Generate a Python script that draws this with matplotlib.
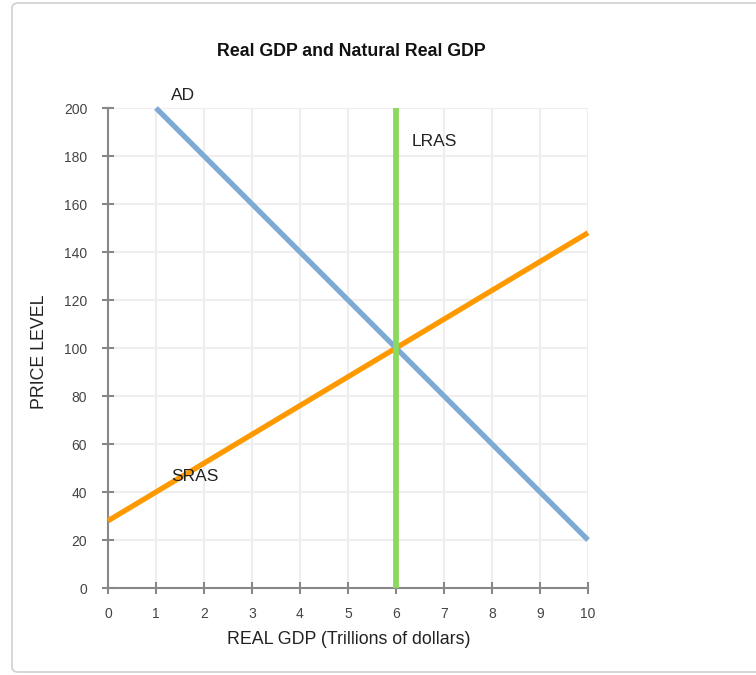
import matplotlib
matplotlib.use("Agg")
import matplotlib.pyplot as plt
from matplotlib.patches import FancyBboxPatch
import numpy as np

plt.rcParams['font.family'] = ['Liberation Sans', 'DejaVu Sans']

# Data
ad_x = [1, 10]
ad_y = [200, 20]
sras_x = [0, 10]
sras_y = [28, 148]
lras_x = [6, 6]
lras_y = [0, 200]
x_ticks = list(range(0, 11))
y_ticks = list(range(0, 201, 20))
labels = {"AD": (1.57, 205), "LRAS": (6.79, 186), "SRAS": (1.82, 46.5)}

W, H = 756, 675
fig = plt.figure(figsize=(W / 100, H / 100), dpi=100)

# card border
card = FancyBboxPatch((12 / W, 3 / H), (W + 20) / W, (H - 6) / H,
                      boxstyle="round,pad=0,rounding_size=0.008",
                      transform=fig.transFigure, facecolor="none",
                      edgecolor="#d0d0d0", linewidth=1.2, zorder=-1)
fig.patches.append(card)

ax = fig.add_axes([108 / W, 87 / H, 480 / W, 480 / H])
ax.set_zorder(2)
ax.set_facecolor("none")
ax.set_xlim(0, 10)
ax.set_ylim(0, 200)
ax.set_xticks(x_ticks)
ax.set_yticks(y_ticks)
ax.set_axisbelow(True)
ax.grid(True, color="#eeeeee", linewidth=1.5, zorder=0)
for s in ["top", "right"]:
    ax.spines[s].set_visible(False)
for s in ["left", "bottom"]:
    ax.spines[s].set_color("#888888")
    ax.spines[s].set_linewidth(1.5)
ax.tick_params(axis="both", direction="inout", length=8, width=1.5,
               color="#888888", labelcolor="#444444", labelsize=10)
ax.tick_params(axis="y", pad=11)
ax.tick_params(axis="x", pad=10)

ax.plot(sras_x, sras_y, color="#ff9900", linewidth=3.8, solid_capstyle="butt", zorder=3, clip_on=False)
ax.plot(ad_x, ad_y, color="#7eaad4", linewidth=3.8, solid_capstyle="butt", zorder=3, clip_on=False)
ax.plot(lras_x, lras_y, color="#8cd95f", linewidth=4.2, solid_capstyle="butt", zorder=4, clip_on=False)

for name, (lx, ly) in labels.items():
    ax.text(lx, ly, name, ha="center", va="center", fontsize=12.5, color="#222222", zorder=5)

fig.text(348.5 / W, 1 - 639 / H, "REAL GDP (Trillions of dollars)", ha="center", va="center",
         fontsize=12.8, color="#222222")
fig.text(40 / W, 1 - 351.5 / H, "PRICE LEVEL", ha="center", va="center", rotation=90,
         fontsize=12.8, color="#222222")

fig.text(351.5 / W, 1 - 52 / H, "Real GDP and Natural Real GDP", ha="center", va="center",
         fontsize=12.8, fontweight="bold", color="#111111")

fig.savefig("out.png", dpi=100)
